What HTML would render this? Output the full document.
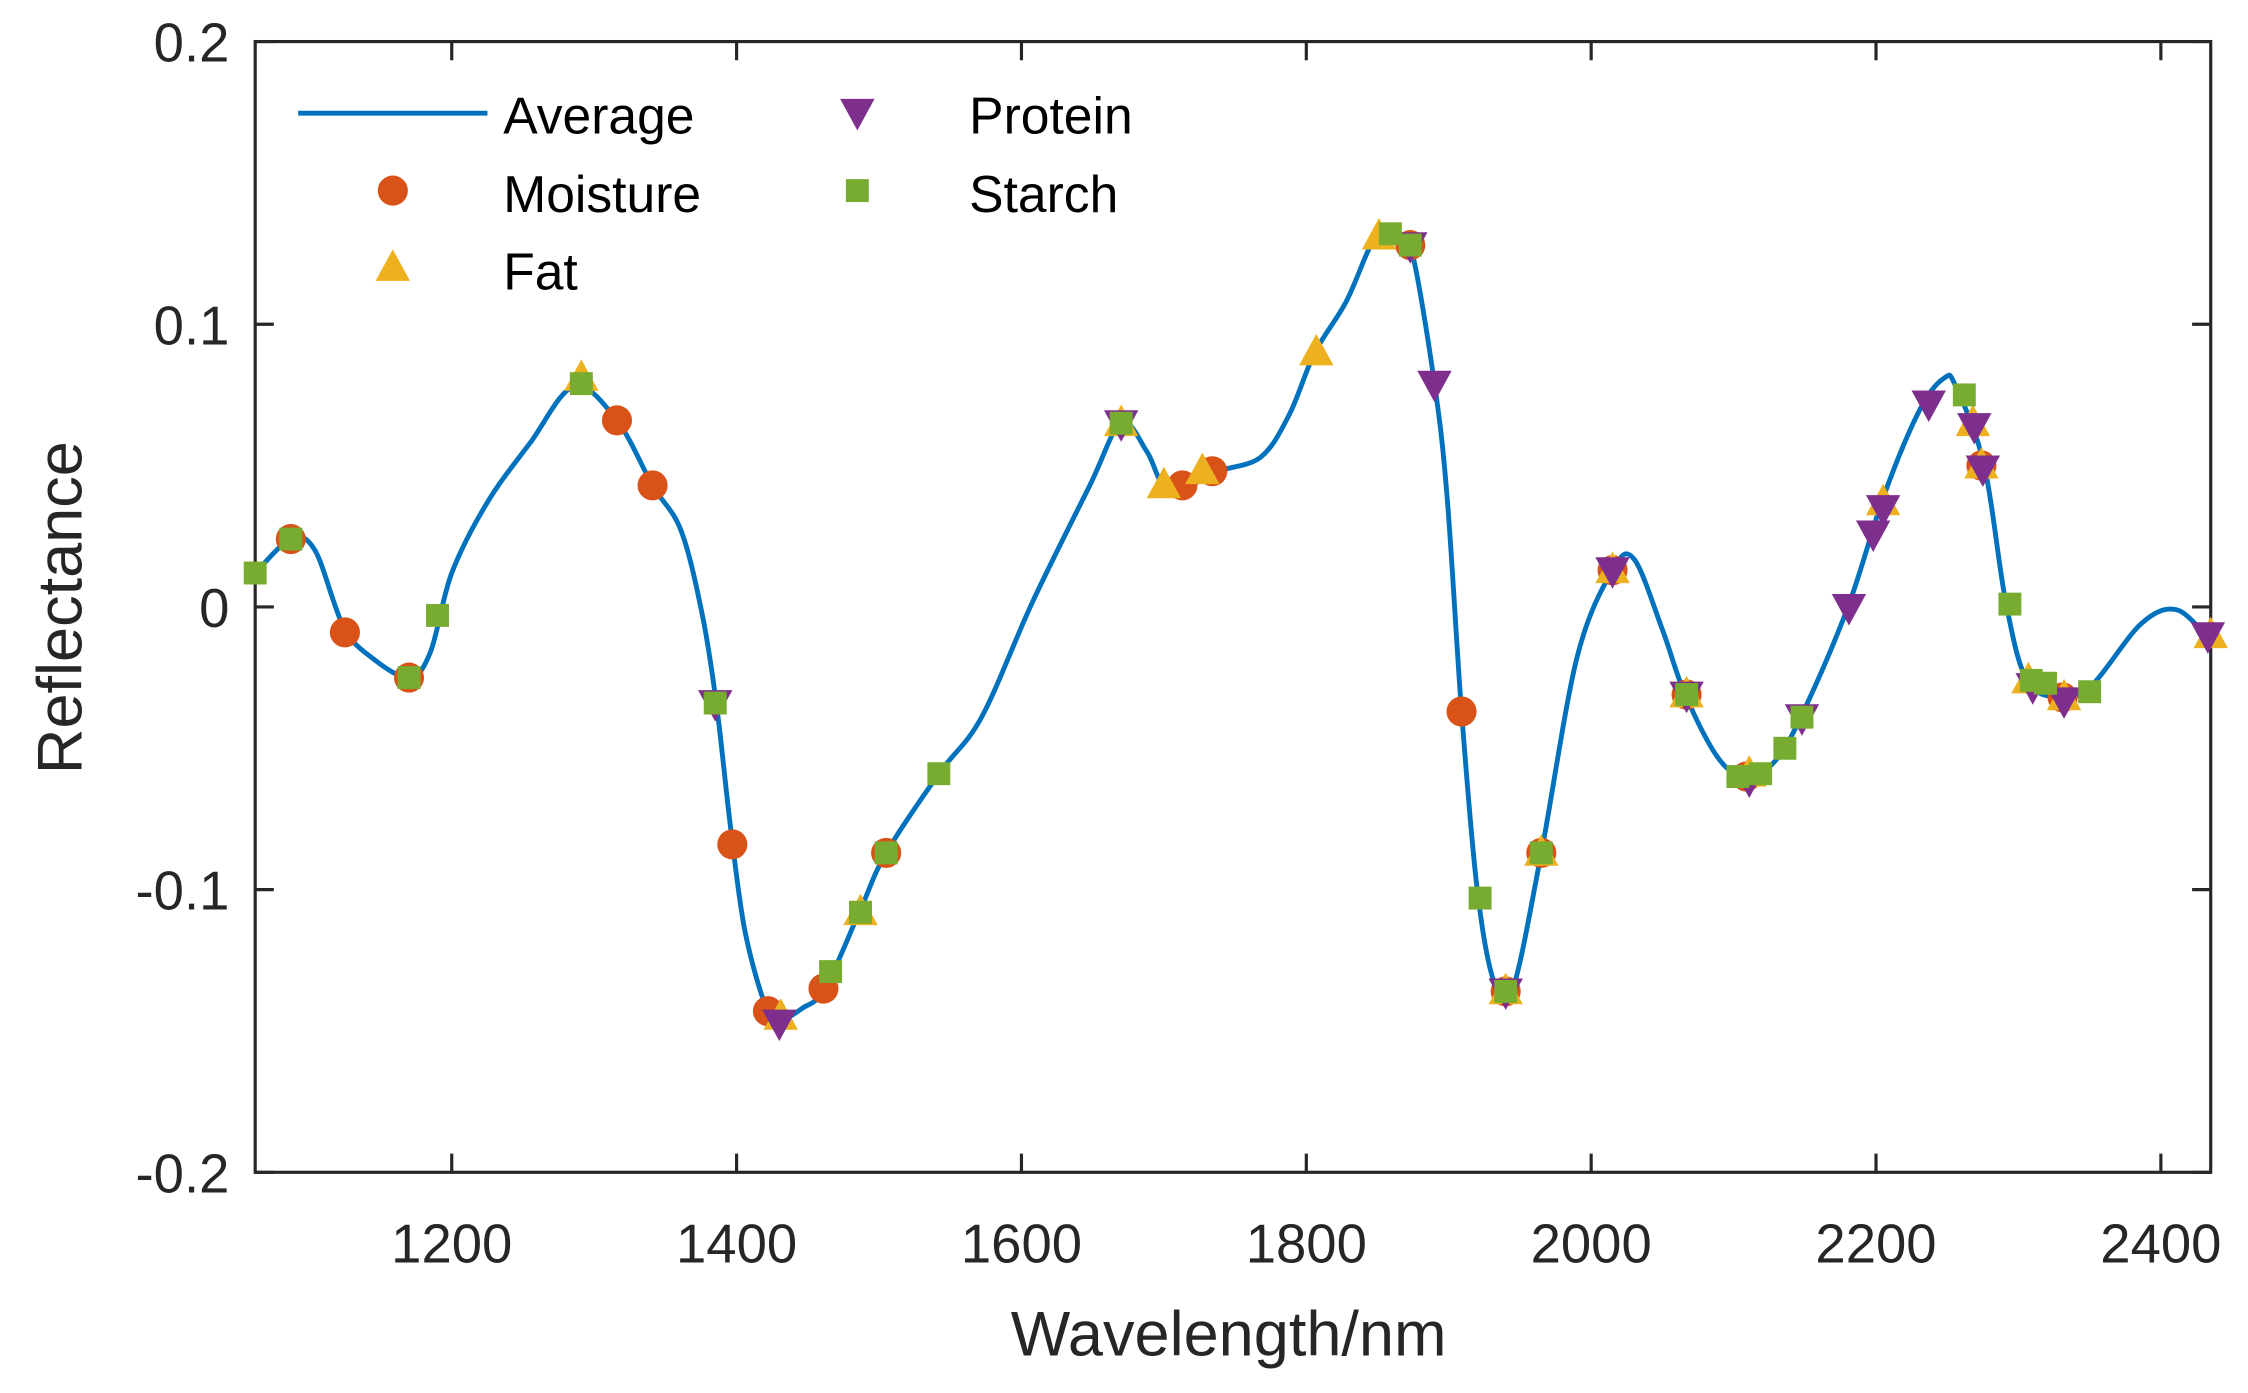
<!DOCTYPE html>
<html><head><meta charset="utf-8"><style>
html,body{margin:0;padding:0;background:#fff;}
svg{display:block;font-family:"Liberation Sans",Arial,sans-serif;}
</style></head><body>
<svg id="chart" width="2248" height="1393" viewBox="0 0 1568 972" preserveAspectRatio="none" xmlns="http://www.w3.org/2000/svg">
<rect width="1568" height="972" fill="#fff"/>
<g id="plot"></g>
</svg>
<script>
const xTicks = [1200,1400,1600,1800,2000,2200,2400];
const yTicks = [-0.2,-0.1,0,0.1,0.2];
const yTickLabels = ["-0.2","-0.1","0","0.1","0.2"];
const avgWl = [1062,1087,1104,1124,1144,1170,1185,1200,1225,1255,1286,1316,1341,1361,1376,1386,1396,1406,1421,1431,1446,1462,1487,1505,1542,1572,1608,1648,1670,1688,1700,1718,1738,1768,1788,1806,1828,1849,1864,1874,1890,1899,1909,1920,1932,1945,1965,1990,2015,2030,2050,2066,2090,2110,2130,2150,2181,2206,2231,2248,2256,2276,2291,2306,2329,2351,2386,2411,2433];
const avgVal = [0.012,0.024,0.020,-0.007,-0.018,-0.025,-0.016,0.012,0.037,0.058,0.078,0.066,0.043,0.027,-0.003,-0.035,-0.079,-0.115,-0.142,-0.146,-0.142,-0.135,-0.107,-0.087,-0.059,-0.039,0.002,0.043,0.065,0.055,0.043,0.043,0.048,0.053,0.068,0.090,0.108,0.131,0.129,0.126,0.079,0.038,-0.037,-0.100,-0.133,-0.135,-0.087,-0.018,0.013,0.017,-0.008,-0.031,-0.054,-0.060,-0.054,-0.036,0.001,0.040,0.070,0.081,0.078,0.050,0.002,-0.026,-0.032,-0.028,-0.006,-0.001,-0.011];
const moistWl = [1087,1125,1170,1316,1341,1397,1422,1461,1505,1713,1734,1873,1909,1940,1965,2015,2067,2109,2274,2331];
const moistVal = [0.024,-0.009,-0.025,0.066,0.043,-0.084,-0.143,-0.135,-0.087,0.043,0.048,0.128,-0.037,-0.136,-0.087,0.013,-0.031,-0.060,0.050,-0.032];
const fatWl = [1291,1431,1487,1670,1700,1727,1807,1851,1940,1965,2015,2067,2111,2205,2268,2274,2307,2332,2435];
const fatVal = [0.081,-0.145,-0.108,0.065,0.043,0.048,0.090,0.131,-0.136,-0.087,0.013,-0.031,-0.059,0.037,0.065,0.050,-0.026,-0.032,-0.010];
const protWl = [1385,1430,1670,1873,1890,1940,2015,2067,2111,2148,2181,2198,2205,2237,2269,2275,2310,2332,2433];
const protVal = [-0.034,-0.147,0.065,0.128,0.079,-0.136,0.013,-0.031,-0.061,-0.039,0.000,0.026,0.035,0.072,0.064,0.049,-0.028,-0.033,-0.010];
const starchWl = [1062,1087,1170,1190,1291,1385,1466,1487,1505,1542,1670,1859,1873,1922,1940,1965,2067,2103,2119,2136,2148,2262,2294,2309,2319,2350];
const starchVal = [0.012,0.024,-0.025,-0.003,0.079,-0.034,-0.129,-0.108,-0.087,-0.059,0.065,0.132,0.128,-0.103,-0.136,-0.087,-0.031,-0.060,-0.059,-0.050,-0.039,0.075,0.001,-0.026,-0.027,-0.030];

const L=178,R=1542,T=29,B=818, XMIN=1062, XMAX=2435;
const sx=v=>L+(v-XMIN)/(XMAX-XMIN)*(R-L);
const sy=v=>B-(v+0.2)/0.4*(B-T);
const NS="http://www.w3.org/2000/svg";
const g=document.getElementById('plot');
function mk(tag,attrs,parent){const e=document.createElementNS(NS,tag);for(const k in attrs)e.setAttribute(k,attrs[k]);(parent||g).appendChild(e);return e;}

const box=mk('rect',{x:L,y:T,width:R-L,height:B-T,fill:'none',stroke:'#262626','stroke-width':2.2});


xTicks.forEach(t=>{
  const x=sx(t);
  const tk=mk('path',{d:`M${x},${B}V${B-13}M${x},${T}V${T+13}`,stroke:'#262626','stroke-width':2.2});
  
  
  const lb=mk('text',{x:x,y:881,'text-anchor':'middle','font-size':38,fill:'#262626'});
  lb.textContent=t;
  
  
});
yTicks.forEach((t,i)=>{
  const y=sy(t);
  const tk=mk('path',{d:`M${L},${y}H${L+13}M${R},${y}H${R-13}`,stroke:'#262626','stroke-width':2.2});
  
  
  const lb=mk('text',{x:160,y:y+14,'text-anchor':'end','font-size':38,fill:'#262626'});
  lb.textContent=yTickLabels[i];
  
  
});
const xl=mk('text',{x:857,y:946,'text-anchor':'middle','font-size':44,fill:'#262626'});
xl.textContent='Wavelength/nm';


const yl=mk('text',{x:0,y:0,'text-anchor':'middle','font-size':44,fill:'#262626',transform:'translate(57,424) rotate(-90)'});
yl.textContent='Reflectance';



const P=avgWl.map((w,i)=>[sx(w),sy(avgVal[i])]);
let d=`M${P[0][0]},${P[0][1]}`;
for(let i=0;i<P.length-1;i++){
  const p0=P[Math.max(0,i-1)],p1=P[i],p2=P[i+1],p3=P[Math.min(P.length-1,i+2)];
  const c1=[p1[0]+(p2[0]-p0[0])/6,p1[1]+(p2[1]-p0[1])/6];
  const c2=[p2[0]-(p3[0]-p1[0])/6,p2[1]-(p3[1]-p1[1])/6];
  d+=`C${c1[0]},${c1[1]} ${c2[0]},${c2[1]} ${p2[0]},${p2[1]}`;
}
const line=mk('path',{d:d,fill:'none',stroke:'#0072BD','stroke-width':3.4});



function marker(kind,x,y,parent){
  let e;
  if(kind==='circle')e=mk('circle',{cx:x,cy:y,r:10.5,fill:'#D95319'},parent);
  else if(kind==='up')e=mk('path',{d:`M${x},${y-13}L${x+12},${y+9}L${x-12},${y+9}Z`,fill:'#EDB120'},parent);
  else if(kind==='down')e=mk('path',{d:`M${x},${y+13}L${x+12},${y-9}L${x-12},${y-9}Z`,fill:'#7E2F8E'},parent);
  else e=mk('rect',{x:x-8,y:y-8,width:16,height:16,fill:'#77AC30'},parent);
  return e;
}
const series=[['circle',moistWl,moistVal,'moisture'],['up',fatWl,fatVal,'fat'],['down',protWl,protVal,'protein'],['square',starchWl,starchVal,'starch']];
series.forEach(s=>{
  const grp=mk('g',{});
  
  
  s[1].forEach((w,i)=>{
    const m=marker(s[0],sx(w),sy(s[2][i]),grp);
    
    
  });
});

const lg=mk('g',{});


const ll=mk('path',{d:'M208,79H340',stroke:'#0072BD','stroke-width':3.4},lg);


const entries=[['Average',351,80,null,0],['Moisture',351,135,'circle',274],['Fat',351,189,'up',274],['Protein',676,80,'down',598],['Starch',676,135,'square',598]];
entries.forEach(e=>{
  if(e[3]){const m=marker(e[3],e[4],e[2]-2,lg);
    
    }
  const t=mk('text',{x:e[1],y:e[2]+13,'font-size':36,fill:'#000'},lg);
  t.textContent=e[0];
  
  
});
</script>
</body></html>
